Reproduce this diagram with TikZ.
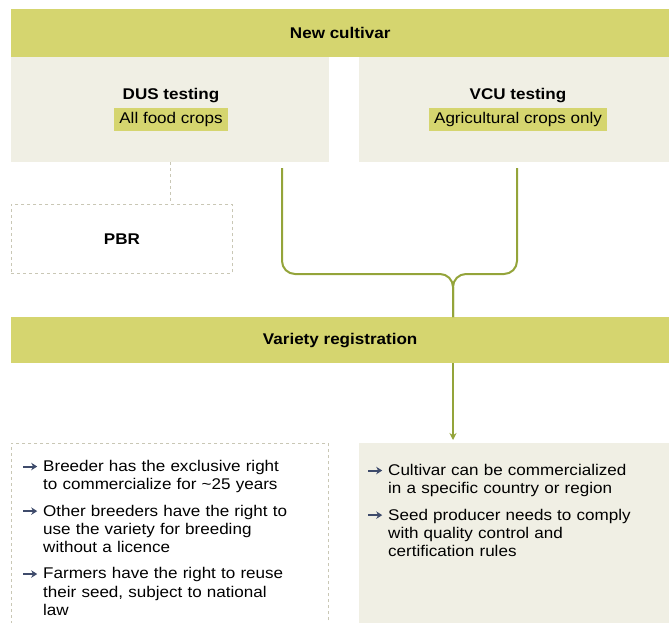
\documentclass[tikz,border=0pt]{standalone}
\usepackage{fontspec}
\setmainfont{Liberation Sans}[FakeStretch=1.1]
\usetikzlibrary{arrows.meta}

\definecolor{barolive}{HTML}{D5D56F}
\definecolor{panelgrey}{HTML}{F0EFE4}
\definecolor{linkgreen}{HTML}{94A43A}
\definecolor{dashgrey}{HTML}{C9C7B5}
\definecolor{bulletblue}{HTML}{3E4B6B}

\newcommand{\bodyfont}{\fontsize{15.5}{18.3}\selectfont}
\newcommand{\bularrow}{\tikz[baseline=-0.6ex]\draw[bulletblue, line width=2pt, -{Stealth[length=6pt,width=7.5pt]}] (0,0) -- (14pt,0);}
\newcommand{\pointitem}[1]{\hangindent=21pt\hangafter=1\noindent\makebox[21pt][l]{\bularrow}#1\par}

\tikzset{
    bar/.style={fill=barolive, anchor=north west, minimum width=658pt, font=\bodyfont\bfseries},
    panel/.style={fill=panelgrey, anchor=north west},
    dashbox/.style={draw=dashgrey, dashed, line width=0.8pt, anchor=north west},
    head/.style={font=\bodyfont\bfseries},
    tag/.style={fill=barolive, inner xsep=5pt, minimum height=23pt},
    points/.style={anchor=north west, inner sep=0pt, text width=310pt, font=\bodyfont},
    link/.style={linkgreen, line width=2pt, rounded corners=13pt},
}

\begin{document}
\begin{tikzpicture}[x=1pt, y=-1pt, font=\bodyfont]
    \useasboundingbox (0,0) rectangle (669,622);

    % Top bar
    \node[bar, minimum height=48pt] (cultivar) at (11,9) {New cultivar};

    % Testing panels
    \node[panel, minimum width=318pt, minimum height=105pt] (dus) at (11,57) {};
    \node[panel, minimum width=310pt, minimum height=105pt] (vcu) at (359,57) {};
    \node[head] (dustitle) at (171,96) {DUS testing};
    \node[tag] (dustag) at (171,119) {All food crops};
    \node[head] (vcutitle) at (518,96) {VCU testing};
    \node[tag] (vcutag) at (518,119) {Agricultural crops only};

    % PBR branch
    \node[dashbox, minimum width=221pt, minimum height=69pt, font=\bodyfont\bfseries] (pbr) at (11,204) {PBR};
    \draw[dashgrey, dashed, line width=0.8pt] (dus.south) -- (dus.south |- pbr.north);

    % Registration bar
    \node[bar, minimum height=46pt] (reg) at (11,317) {Variety registration};

    % Merging lines
    \coordinate (dusout) at (282,168);
    \coordinate (vcuout) at (517,168);
    \coordinate (join) at (453,274);
    \draw[link] (dusout) -- (dusout |- join) -- (join) -- (join |- reg.north);
    \draw[link] (vcuout) -- (vcuout |- join) -- (join) -- (join |- reg.north);
    \draw[linkgreen, line width=2pt, -{Stealth[length=7pt,width=7pt]}] (reg.south -| join) -- (453,440);

    % Outcome panels
    \node[dashbox, minimum width=317pt, minimum height=190pt] (pbrbox) at (11,443) {};
    \node[panel, minimum width=310pt, minimum height=190pt] (regbox) at (359,443) {};

    \node[points] (pbrlist) at (22,460) {%
        \pointitem{Breeder has the exclusive right\newline to commercialize for \textasciitilde25 years}
        \vspace{8pt}
        \pointitem{Other breeders have the right to\newline use the variety for breeding\newline without a licence}
        \vspace{8pt}
        \pointitem{Farmers have the right to reuse\newline their seed, subject to national\newline law}};
    \node[points] (reglist) at (367,464) {%
        \pointitem{Cultivar can be commercialized\newline in a specific country or region}
        \vspace{8pt}
        \pointitem{Seed producer needs to comply\newline with quality control and\newline certification rules}};
\end{tikzpicture}
\end{document}
